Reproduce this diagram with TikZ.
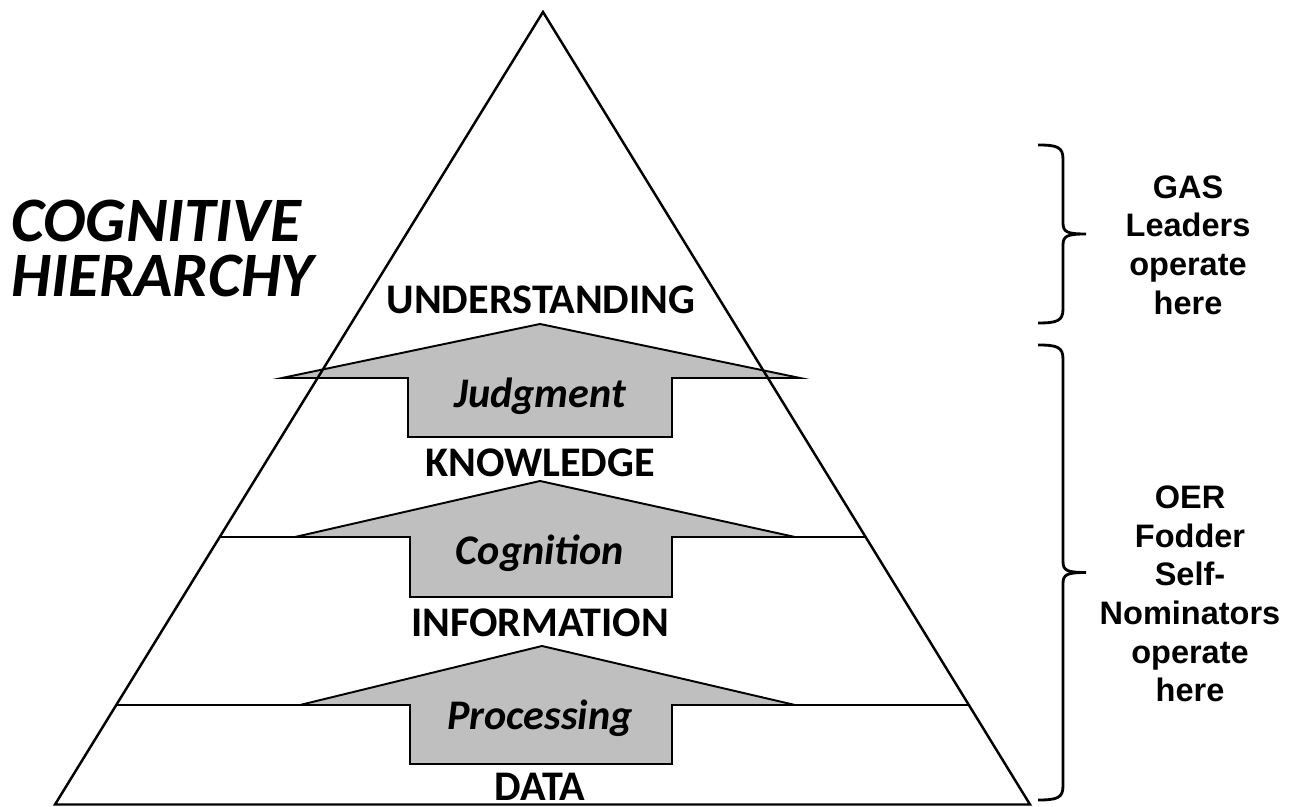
\documentclass[tikz,border=0pt]{standalone}
\usepackage{fontspec}
\setmainfont{Carlito}
\newfontfamily\sidefont{Liberation Sans}
\usetikzlibrary{calc}

% square-ish curly bracket, tip to the right: #1 x, #2 top, #3 bottom
\newcommand{\sidebrace}[3]{%
  \pgfmathsetmacro\bmid{(#2+#3)/2}
  \pgfmathsetmacro\bbar{#1+0.50}
  \pgfmathsetmacro\btip{#1+0.96}
  \draw[bracepath] (#1,#2) .. controls (\bbar-0.12,#2) and (\bbar,#2-0.04) .. (\bbar,#2-0.28)
    -- (\bbar,\bmid+0.22) .. controls (\bbar,\bmid+0.04) and (\bbar+0.08,\bmid) .. (\btip,\bmid)
    .. controls (\bbar+0.08,\bmid) and (\bbar,\bmid-0.04) .. (\bbar,\bmid-0.22)
    -- (\bbar,#3+0.28) .. controls (\bbar,#3+0.04) and (\bbar-0.12,#3) .. (#1,#3);
}

\begin{document}
\begin{tikzpicture}[
  level/.style={font=\fontsize{24}{28}\selectfont\bfseries, inner sep=1pt},
  process/.style={font=\fontsize{24}{28}\selectfont\bfseries\itshape, inner sep=1pt},
  uparrow/.style={draw=black, fill=black!25, line width=1.1pt, line join=miter},
  bracepath/.style={line width=1.6pt},
  side/.style={font=\sidefont\fontsize{18.5}{22}\selectfont\bfseries, align=center}
]

\useasboundingbox (0,0) rectangle (25.86,16.14);

% === PYRAMID CORNERS ===
\coordinate (apex) at (10.86,15.90);
\coordinate (baseL) at (1.10,0.05);
\coordinate (baseR) at (20.60,0.05);

% layer lines, cut at the sides
\draw[line width=1.4pt] ($(baseL)!0.3375!(apex)$) -- ($(baseR)!0.3375!(apex)$);
\draw[line width=1.4pt] ($(baseL)!0.1256!(apex)$) -- ($(baseR)!0.1256!(apex)$);

% === ARROWS ===
\draw[uparrow] (5.64,8.58) -- (10.80,9.66) -- (16.00,8.58) -- (13.44,8.58) -- (13.44,7.40) -- (8.16,7.40) -- (8.16,8.58) -- cycle;
\draw[uparrow] (5.90,5.40) -- (10.80,6.52) -- (15.90,5.40) -- (13.44,5.40) -- (13.44,4.20) -- (8.20,4.20) -- (8.20,5.40) -- cycle;
\draw[uparrow] (6.00,2.04) -- (10.84,3.22) -- (15.90,2.04) -- (13.44,2.04) -- (13.44,0.86) -- (8.20,0.86) -- (8.20,2.04) -- cycle;

% outline on top
\draw[line width=1.4pt, line join=miter] (apex) -- (baseR) -- (baseL) -- cycle;

% === LEVELS ===
\node[level] (understanding) at (10.82,10.14) {UNDERSTANDING};
\node[level] (knowledge) at (10.80,6.88) {KNOWLEDGE};
\node[level] (information) at (10.80,3.68) {INFORMATION};
\node[level] (data) at (10.80,0.40) {DATA};

\node[process] (judgment) at (10.80,8.22) {Judgment};
\node[process] (cognition) at (10.80,5.08) {Cognition};
\node[process] (processing) at (10.80,1.78) {Processing};

% === TITLE ===
\node[font=\fontsize{36}{33}\selectfont\bfseries\itshape, anchor=west, inner sep=0pt] (title1) at (0.22,11.72) {COGNITIVE};
\node[font=\fontsize{36}{33}\selectfont\bfseries\itshape, anchor=west, inner sep=0pt] (title2) at (0.22,10.62) {HIERARCHY};

% === GROUPS ===
\sidebrace{20.76}{13.24}{9.68}
\node[side] (gas) at (23.76,11.24) {GAS\\Leaders\\operate\\here};

\sidebrace{20.76}{9.24}{0.14}
\node[side] (oer) at (23.80,4.26) {OER\\Fodder\\Self-\\Nominators\\operate\\here};

\end{tikzpicture}
\end{document}
